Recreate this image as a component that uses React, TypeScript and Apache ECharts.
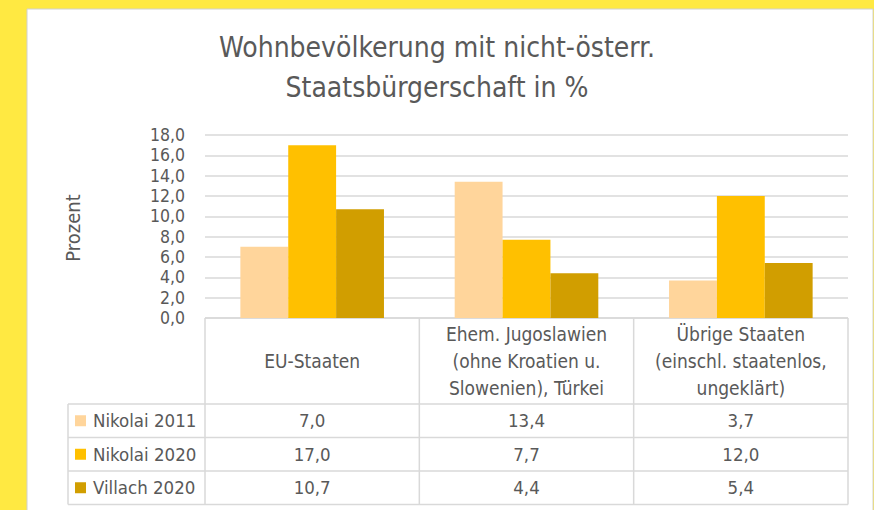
import React, { useEffect, useRef } from "react";
import * as echarts from "echarts";

const categories = [
  "EU-Staaten",
  "Ehem. Jugoslawien\n(ohne Kroatien u.\nSlowenien), Türkei",
  "Übrige Staaten\n(einschl. staatenlos,\nungeklärt)",
];
const seriesNames = ["Nikolai 2011", "Nikolai 2020", "Villach 2020"];
const nikolai2011 = [7.0, 13.4, 3.7];
const nikolai2020 = [17.0, 7.7, 12.0];
const villach2020 = [10.7, 4.4, 5.4];
const seriesColors = ["#FFD59B", "#FFC000", "#D19E00"];
const titleText = "Wohnbevölkerung mit nicht-österr.\nStaatsbürgerschaft in %";
const yAxisName = "Prozent";

const FONT = "'Liberation Sans Narrow', 'DejaVu Sans Condensed', 'Open Sans', sans-serif";
const TEXT = "#595959";
const LINE = "#D9D9D9";

const fmt = (v: number) => v.toFixed(1).replace(".", ",");

export default function App() {
  const ref = useRef<HTMLDivElement>(null);
  useEffect(() => {
    if (!ref.current) return;
    const chart = echarts.init(ref.current, undefined, { renderer: "svg" });
    const W = 874;
    const gridLeft = 205;
    const gridRight = 848;
    const gridTop = 135;
    const gridBottom = 318;
    const colW = (gridRight - gridLeft) / categories.length;
    const rowTops = [404, 437.5, 471];
    const rowH = 33.5;
    const tableBottom = rowTops[2] + rowH;
    const legendLeft = 68;
    const allData = [nikolai2011, nikolai2020, villach2020];

    const graphics: any[] = [
      { type: "rect", z: -20, shape: { x: 0, y: 0, width: W, height: 510 }, style: { fill: "#FFE942" }, silent: true },
      { type: "rect", z: -19, shape: { x: 27, y: 9, width: 846, height: 510 }, style: { fill: "#FFFFFF", stroke: "#D0D0D0", lineWidth: 1 }, silent: true },
      {
        type: "text",
        x: 73,
        y: 228,
        rotation: Math.PI / 2,
        style: { text: yAxisName, fill: TEXT, font: `20px ${FONT}`, align: "center", verticalAlign: "middle" },
      },
    ];
    graphics.push({ type: "line", shape: { x1: gridLeft, y1: gridBottom, x2: gridRight, y2: gridBottom }, style: { stroke: LINE, lineWidth: 1.5 } });
    for (let i = 0; i <= categories.length; i++) {
      const x = gridLeft + colW * i;
      graphics.push({ type: "line", shape: { x1: x, y1: gridBottom, x2: x, y2: tableBottom }, style: { stroke: LINE, lineWidth: 1.5 } });
    }
    [...rowTops, tableBottom].forEach((y) => {
      graphics.push({ type: "line", shape: { x1: legendLeft, y1: y, x2: gridRight, y2: y }, style: { stroke: LINE, lineWidth: 1.5 } });
    });
    graphics.push({ type: "line", shape: { x1: legendLeft, y1: rowTops[0], x2: legendLeft, y2: tableBottom }, style: { stroke: LINE, lineWidth: 1.5 } });
    seriesNames.forEach((name, r) => {
      const cy = rowTops[r] + rowH / 2;
      graphics.push({ type: "rect", shape: { x: 75, y: cy - 5.5, width: 11, height: 11 }, style: { fill: seriesColors[r] } });
      graphics.push({ type: "text", x: 93, y: cy, style: { text: name, fill: TEXT, font: `18.5px ${FONT}`, align: "left", verticalAlign: "middle" } });
      allData[r].forEach((v, c) => {
        graphics.push({
          type: "text",
          x: gridLeft + colW * (c + 0.5),
          y: cy,
          style: { text: fmt(v), fill: TEXT, font: `18.5px ${FONT}`, align: "center", verticalAlign: "middle" },
        });
      });
    });

    chart.setOption({
      animation: false,
      title: {
        text: titleText,
        left: "center",
        top: 22,
        textStyle: { fontFamily: FONT, fontSize: 28, fontWeight: "normal", color: TEXT, lineHeight: 40 },
      },
      grid: { left: gridLeft, right: W - gridRight, top: gridTop, height: gridBottom - gridTop, containLabel: false },
      xAxis: {
        type: "category",
        data: categories,
        axisLine: { show: false },
        axisTick: { show: false },
        axisLabel: {
          interval: 0,
          margin: 43,
          verticalAlign: "middle",
          lineHeight: 27,
          fontSize: 19,
          fontFamily: FONT,
          color: TEXT,
          align: "center",
        },
      },
      yAxis: {
        type: "value",
        min: 0,
        max: 18,
        interval: 2,
        axisLine: { show: false },
        axisTick: { show: false },
        splitLine: { lineStyle: { color: LINE, width: 1.5 } },
        axisLabel: { formatter: (v: number) => fmt(v), fontSize: 17.5, fontFamily: FONT, color: TEXT, margin: 20 },
      },
      series: seriesNames.map((name, i) => ({
        name,
        type: "bar",
        data: allData[i],
        barGap: "0%",
        barCategoryGap: "33%",
        itemStyle: { color: seriesColors[i] },
      })),
      graphic: graphics,
    });
    return () => chart.dispose();
  }, []);
  return <div ref={ref} style={{ position: "absolute", left: 0, top: 0, width: 874, height: 510 }} />;
}
